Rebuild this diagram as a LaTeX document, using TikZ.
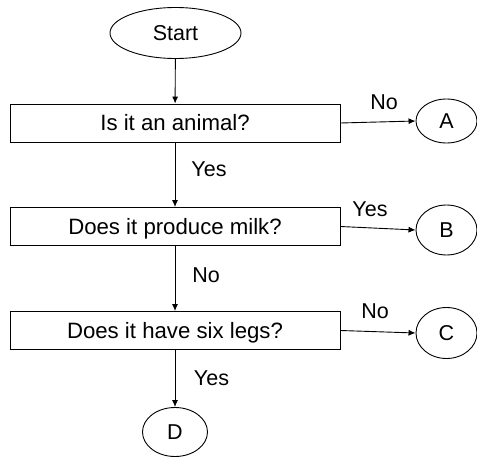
\documentclass[tikz,border=0pt]{standalone}
\usepackage{fontspec}
\setmainfont{Liberation Sans}
\usetikzlibrary{shapes.geometric,arrows.meta}
\begin{document}
\begin{tikzpicture}[x=1pt,y=-1pt,
  every node/.style={font=\fontsize{21.5}{25}\selectfont, text=black},
  qbox/.style={draw, line width=0.9pt, minimum width=330pt, minimum height=38pt, inner sep=0pt, text height=15.5pt, text depth=0pt, font=\fontsize{22.2}{26}\selectfont},
  term/.style={draw, ellipse, line width=0.9pt, inner sep=0pt, text height=15.5pt, text depth=0pt},
  lbl/.style={anchor=base, inner sep=0pt},
  flow/.style={line width=0.9pt, -{Latex[length=7pt,width=6pt]}}
]
\useasboundingbox (0,0) rectangle (477,460);
\node[term, minimum width=131pt, minimum height=51pt] (start) at (175.5,33) {Start};
\node[qbox] (q1) at (175,123) {Is it an animal?};
\node[qbox] (q2) at (175,226.5) {Does it produce milk?};
\node[qbox] (q3) at (175,330.5) {Does it have six legs?};
\node[term, minimum width=61pt, minimum height=44pt] (A) at (446.5,121) {A};
\node[term, minimum width=61pt, minimum height=50pt] (B) at (446.5,230) {B};
\node[term, minimum width=61pt, minimum height=51pt] (C) at (446.5,333) {C};
\node[term, minimum width=65pt, minimum height=49pt] (D) at (175,432) {D};
\draw[flow] (start) -- (q1);
\draw[flow] (q1) -- (q2);
\draw[flow] (q2) -- (q3);
\draw[flow] (q3) -- (D);
\draw[flow] (q1.east) -- (A.west);
\draw[flow] (q2.east) -- (B.west);
\draw[flow] (q3.east) -- (C.west);
\node[lbl] (lno1) at (384,110) {No};
\node[lbl] (lyes1) at (209,176.5) {Yes};
\node[lbl] (lyes2) at (370,216.5) {Yes};
\node[lbl] (lno2) at (206,282.5) {No};
\node[lbl] (lno3) at (375,318) {No};
\node[lbl] (lyes3) at (211.5,385) {Yes};
\end{tikzpicture}
\end{document}
